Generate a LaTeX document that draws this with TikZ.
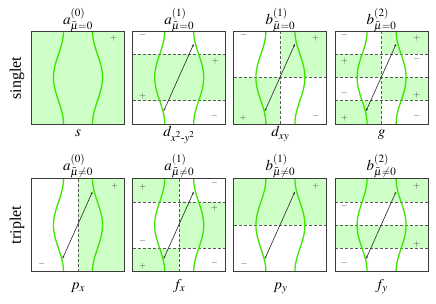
\documentclass[tikz,border=0pt]{standalone}
\usepackage{amsmath}
\usepackage{mathptmx}
\usepackage{fontspec}
\setmainfont{Liberation Serif}
\usetikzlibrary{arrows.meta}
\definecolor{fillg}{RGB}{206,255,198}
\definecolor{curveg}{RGB}{60,230,0}
\definecolor{framec}{RGB}{60,60,60}
\definecolor{dashc}{RGB}{90,90,90}
\tikzset{
  framest/.style={draw=framec,line width=0.9pt},
  greenfill/.style={fill=fillg,draw=none},
  dashln/.style={draw=dashc,line width=0.5pt,dash pattern=on 3pt off 2pt},
  curve/.style={draw=curveg,line width=1.3pt},
  arr/.style={draw=black!85,line width=0.6pt,{Stealth[length=2.6pt,width=2pt]}-{Stealth[length=2.6pt,width=2pt]}},
  sgn/.style={inner sep=0pt,font=\fontsize{9}{9}\selectfont,text=black!75},
  ttl/.style={anchor=base,inner sep=0pt,font=\fontsize{15}{17}\selectfont},
  lbl/.style={anchor=base,inner sep=0pt,font=\fontsize{15}{17}\selectfont},
  rowlbl/.style={rotate=90,inner sep=0pt,font=\fontsize{16}{18}\selectfont}
}
\newcommand\greencurves{%
  \draw[curve] plot[domain=0:1,samples=60] ({32-5*(1-cos(360*\x))},{93*\x});
  \draw[curve] plot[domain=0:1,samples=60] ({61+5*(1-cos(360*\x))},{93*\x});}
\newcommand\panelframe{\draw[framest] (0,0) rectangle (93,93);}
\newcommand\pairarrow[1]{%
  \coordinate (#1lo) at (31,80);
  \coordinate (#1hi) at (61,13);
  \draw[arr] (#1lo) -- (#1hi);}
\begin{document}
\begin{tikzpicture}[x=1pt,y=-1pt]
\useasboundingbox (0,0) rectangle (436,304);
% row labels
\node[rowlbl] (singlet) at (17,78) {singlet};
\node[rowlbl] (triplet) at (17,225) {triplet};
% ---------- row 1 ----------
% s
\begin{scope}[shift={(31.5,31)}]
  \fill[greenfill] (0,0) rectangle (93,93);
  \greencurves
  \panelframe
  \node[sgn] (s1) at (82,7.3) {$+$};
\end{scope}
\node[ttl] (t11) at (78,24.5) {$a^{(0)}_{\bar{\mu}=0}$};
\node[lbl] (l11) at (78,137) {$s$};
% d x2-y2
\begin{scope}[shift={(132.7,31)}]
  \fill[greenfill] (0,23.25) rectangle (93,69.75);
  \draw[dashln] (0,23.25) -- (93,23.25) (0,69.75) -- (93,69.75);
  \greencurves
  \panelframe
  \pairarrow{a12}
  \node[sgn] (s2a) at (10,4) {$-$};
  \node[sgn] (s2b) at (82.3,30.7) {$+$};
  \node[sgn] (s2c) at (10,65) {$+$};
  \node[sgn] (s2d) at (81.6,85.7) {$-$};
\end{scope}
\node[ttl] (t12) at (179.2,24.5) {$a^{(1)}_{\bar{\mu}=0}$};
\node[lbl] (l12) at (179.2,137) {$d_{x^2\text{-}y^2}$};
% d xy
\begin{scope}[shift={(233.9,31)}]
  \fill[greenfill] (46.5,0) rectangle (93,46.5) (0,46.5) rectangle (46.5,93);
  \draw[dashln] (46.5,0) -- (46.5,93) (0,46.5) -- (93,46.5);
  \greencurves
  \panelframe
  \pairarrow{a13}
  \node[sgn] (s3a) at (9.7,4) {$-$};
  \node[sgn] (s3b) at (81.6,7.3) {$+$};
  \node[sgn] (s3c) at (9.3,87.3) {$+$};
  \node[sgn] (s3d) at (81.6,85.7) {$-$};
\end{scope}
\node[ttl] (t13) at (280.4,24.5) {$b^{(1)}_{\bar{\mu}=0}$};
\node[lbl] (l13) at (280.4,137) {$d_{xy}$};
% g
\begin{scope}[shift={(335.1,31)}]
  \fill[greenfill] (46.5,0) rectangle (93,23.25) (0,23.25) rectangle (46.5,46.5)
     (46.5,46.5) rectangle (93,69.75) (0,69.75) rectangle (46.5,93);
  \draw[dashln] (46.5,0) -- (46.5,93) (0,23.25) -- (93,23.25) (0,46.5) -- (93,46.5) (0,69.75) -- (93,69.75);
  \greencurves
  \panelframe
  \pairarrow{a14}
  \node[sgn] (s4a) at (9.3,4) {$-$};
  \node[sgn] (s4b) at (9.3,30.7) {$+$};
  \node[sgn] (s4c) at (9.3,62.3) {$-$};
  \node[sgn] (s4d) at (9.3,87.3) {$+$};
  \node[sgn] (s4e) at (81.7,7.3) {$+$};
  \node[sgn] (s4f) at (81.7,28.3) {$-$};
  \node[sgn] (s4g) at (81.7,64.7) {$+$};
  \node[sgn] (s4h) at (81.7,85.7) {$-$};
\end{scope}
\node[ttl] (t14) at (381.6,24.5) {$b^{(2)}_{\bar{\mu}=0}$};
\node[lbl] (l14) at (381.6,137) {$g$};
% ---------- row 2 ----------
% px
\begin{scope}[shift={(31.5,178.7)}]
  \fill[greenfill] (46.5,0) rectangle (93,93);
  \draw[dashln] (46.5,0) -- (46.5,93);
  \greencurves
  \panelframe
  \pairarrow{a21}
  \node[sgn] (u1a) at (83,8) {$+$};
  \node[sgn] (u1b) at (10.3,85.3) {$-$};
\end{scope}
\node[ttl] (t21) at (78,170.5) {$a^{(0)}_{\bar{\mu}\neq0}$};
\node[lbl] (l21) at (78,289) {$p_x$};
% fx
\begin{scope}[shift={(132.7,178.7)}]
  \fill[greenfill] (0,0) rectangle (46.5,23.25) (46.5,23.25) rectangle (93,69.75) (0,69.75) rectangle (46.5,93);
  \draw[dashln] (46.5,0) -- (46.5,93) (0,23.25) -- (93,23.25) (0,69.75) -- (93,69.75);
  \greencurves
  \panelframe
  \pairarrow{a22}
  \node[sgn] (u2a) at (10,8.6) {$+$};
  \node[sgn] (u2b) at (81.6,4.6) {$-$};
  \node[sgn] (u2c) at (81.6,29.6) {$+$};
  \node[sgn] (u2d) at (10,63) {$-$};
  \node[sgn] (u2e) at (10,88) {$+$};
  \node[sgn] (u2f) at (81.6,84.6) {$-$};
\end{scope}
\node[ttl] (t22) at (179.2,170.5) {$a^{(1)}_{\bar{\mu}\neq0}$};
\node[lbl] (l22) at (179.2,289) {$f_x$};
% py
\begin{scope}[shift={(233.9,178.7)}]
  \fill[greenfill] (0,0) rectangle (93,46.5);
  \draw[dashln] (0,46.5) -- (93,46.5);
  \greencurves
  \panelframe
  \pairarrow{a23}
  \node[sgn] (u3a) at (82,8) {$+$};
  \node[sgn] (u3b) at (10.3,85.3) {$-$};
\end{scope}
\node[ttl] (t23) at (280.4,170.5) {$b^{(1)}_{\bar{\mu}\neq0}$};
\node[lbl] (l23) at (280.4,289) {$p_y$};
% fy
\begin{scope}[shift={(335.1,178.7)}]
  \fill[greenfill] (0,0) rectangle (93,23.25) (0,46.5) rectangle (93,69.75);
  \draw[dashln] (0,23.25) -- (93,23.25) (0,46.5) -- (93,46.5) (0,69.75) -- (93,69.75);
  \greencurves
  \panelframe
  \pairarrow{a24}
  \node[sgn] (u4a) at (81.7,8) {$+$};
  \node[sgn] (u4b) at (9.3,28) {$-$};
  \node[sgn] (u4c) at (81.7,65.3) {$+$};
  \node[sgn] (u4d) at (9.3,84.6) {$-$};
\end{scope}
\node[ttl] (t24) at (381.6,170.5) {$b^{(2)}_{\bar{\mu}\neq0}$};
\node[lbl] (l24) at (381.6,289) {$f_y$};
\end{tikzpicture}
\end{document}
